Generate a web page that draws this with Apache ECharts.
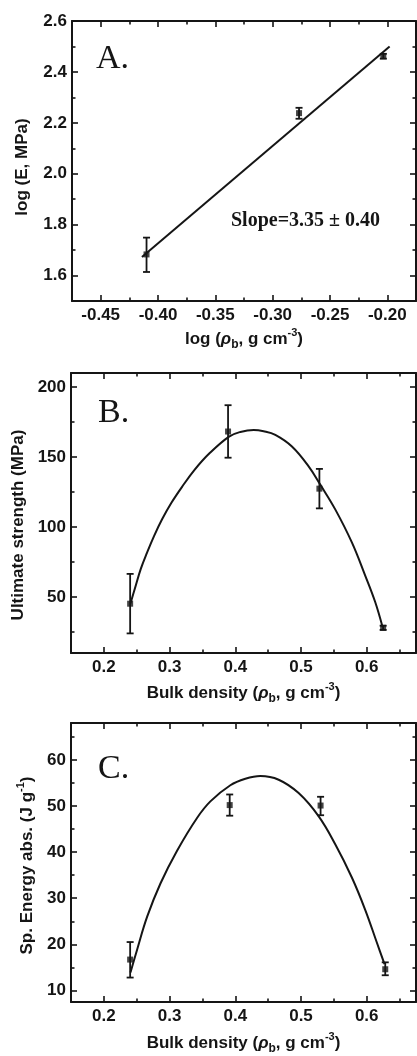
<!DOCTYPE html>
<html><head><meta charset="utf-8">
<script src="https://cdn.jsdelivr.net/npm/echarts@6/dist/echarts.min.js"></script>
<style>html,body{margin:0;padding:0;background:#fff}#c{width:417px;height:1056px}</style>
</head><body><div id="c"></div>
<script>
// ---------- Panel A ----------
const aPoints   = [[-0.410, 1.683], [-0.277, 2.238], [-0.2035, 2.462]];
const aErrLow   = [1.614, 2.216, 2.452];
const aErrHigh  = [1.749, 2.259, 2.471];
const aFitLine  = [[-0.414, 1.673], [-0.198, 2.500]];
const aXRange   = [-0.475, -0.175];
const aYRange   = [1.5, 2.6];
const aXTicks   = [-0.45, -0.40, -0.35, -0.30, -0.25, -0.20];
const aXMinor   = [-0.425, -0.375, -0.325, -0.275, -0.225];
const aYTicks   = [1.6, 1.8, 2.0, 2.2, 2.4, 2.6];
const aYMinor   = [1.7, 1.9, 2.1, 2.3, 2.5];

// ---------- Panel B ----------
const bPoints   = [[0.240, 45.2], [0.389, 168.2], [0.528, 127.4], [0.625, 28.0]];
const bErrLow   = [24.0, 149.5, 113.3, 26.5];
const bErrHigh  = [66.5, 187.0, 141.5, 29.5];
const bCurve    = [[0.2405, 45.3], [0.2471, 55.9], [0.2562, 70.1], [0.2659, 81.9], [0.2765, 93.7],
                   [0.2886, 105.5], [0.3028, 117.3], [0.3196, 129.1], [0.3383, 141.0], [0.3611, 152.8],
                   [0.3905, 164.6], [0.4077, 167.9], [0.4280, 169.3], [0.4432, 168.4], [0.4609, 165.8],
                   [0.4862, 157.5], [0.5116, 143.3], [0.5293, 130.3], [0.5521, 112.6], [0.5774, 89.0],
                   [0.5977, 65.3], [0.6129, 46.4], [0.6240, 28.7]];
const bXRange   = [0.15, 0.675];
const bYRange   = [10, 210];
const bXTicks   = [0.2, 0.3, 0.4, 0.5, 0.6];
const bXMinor   = [0.25, 0.35, 0.45, 0.55, 0.65];
const bYTicks   = [50, 100, 150, 200];
const bYMinor   = [25, 75, 125, 175];

// ---------- Panel C ----------
const cPoints   = [[0.240, 16.7], [0.3915, 50.2], [0.5298, 50.1], [0.6282, 14.6]];
const cErrLow   = [12.8, 47.9, 48.0, 13.3];
const cErrHigh  = [20.5, 52.5, 52.0, 16.1];
const cCurve    = [[0.2405, 13.9], [0.2507, 18.9], [0.2659, 26.0], [0.2861, 33.2], [0.3114, 40.3],
                   [0.3418, 47.4], [0.3621, 51.0], [0.3925, 54.5], [0.4153, 55.9], [0.4381, 56.5],
                   [0.4660, 55.7], [0.4964, 52.8], [0.5267, 47.8], [0.5521, 41.7], [0.5774, 34.5],
                   [0.5977, 27.5], [0.6154, 20.4], [0.6271, 15.7]];
const cXRange   = [0.15, 0.675];
const cYRange   = [7.5, 68];
const cXTicks   = [0.2, 0.3, 0.4, 0.5, 0.6];
const cXMinor   = [0.25, 0.35, 0.45, 0.55, 0.65];
const cYTicks   = [10, 20, 30, 40, 50, 60];
const cYMinor   = [15, 25, 35, 45, 55, 65];

// ---------- Texts ----------
const panelLetters = ['A.', 'B.', 'C.'];
const slopeText = 'Slope=3.35 \u00b1 0.40';
const aXName = '{t|log (}{r|\u03c1}{s|b}{t|, g cm}{p|-3}{t|)}';
const aYName = '{t|log (E, MPa)}';
const bXName = '{t|Bulk density (}{r|\u03c1}{s|b}{t|, g cm}{p|-3}{t|)}';
const bYName = '{t|Ultimate strength (MPa)}';
const cXName = '{t|Bulk density (}{r|\u03c1}{s|b}{t|, g cm}{p|-3}{t|)}';
const cYName = '{t|Sp. Energy abs. (J g}{p|-1}{t|)}';

// ---------- Styling / layout ----------
const INK = '#151515';
const SANS = '"Liberation Sans", Arial, sans-serif';
const SERIF = '"Liberation Serif", "Times New Roman", serif';
const FS = 17;
const RICH = {
  t: {fontFamily: SANS, fontSize: FS, fontWeight: 'bold', color: INK, lineHeight: 24},
  r: {fontFamily: SANS, fontSize: FS, fontWeight: 'bold', fontStyle: 'italic', color: INK, lineHeight: 24},
  s: {fontFamily: SANS, fontSize: 12, fontWeight: 'bold', color: INK, lineHeight: 13, verticalAlign: 'bottom'},
  p: {fontFamily: SANS, fontSize: 11, fontWeight: 'bold', color: INK, lineHeight: 13, verticalAlign: 'top'}
};

const grids = [
  {left: 72, top: 21, width: 344, height: 280},
  {left: 71, top: 373, width: 345, height: 280},
  {left: 71, top: 723, width: 345, height: 283}
];

const xAxes = [], yAxes = [];
function addAxes(gi, xr, yr, xT, xM, yT, yM, xDec, yDec, xName, yName, xGap, yGap, yPad) {
  const base = {gridIndex: gi, type: 'value', splitLine: {show: false}, scale: false};
  const line = {show: true, onZero: false, lineStyle: {color: INK, width: 2}};
  const noLine = {show: false, onZero: false};
  const major = v => ({show: true, inside: true, length: 6, customValues: v, lineStyle: {color: INK, width: 1.6}});
  const minor = v => ({show: true, inside: true, length: 3.5, customValues: v, lineStyle: {color: INK, width: 1.6}});
  const lbl = (v, dec, margin) => ({show: true, customValues: v, formatter: x => Number(x).toFixed(dec),
      margin: margin, color: INK, fontSize: FS, fontWeight: 'bold', fontFamily: SANS});
  const xi = xAxes.length, yi = yAxes.length;
  xAxes.push(Object.assign({}, base, {position: 'bottom', min: xr[0], max: xr[1], axisLine: line,
      axisTick: major(xT), axisLabel: lbl(xT, xDec, 6), name: xName, nameLocation: 'middle',
      nameGap: xGap, nameTextStyle: {rich: RICH}}));
  xAxes.push(Object.assign({}, base, {position: 'bottom', min: xr[0], max: xr[1], axisLine: noLine,
      axisTick: minor(xM), axisLabel: {show: false}}));
  xAxes.push(Object.assign({}, base, {position: 'top', min: xr[0], max: xr[1], axisLine: line,
      axisTick: major(xT), axisLabel: {show: false}}));
  xAxes.push(Object.assign({}, base, {position: 'top', min: xr[0], max: xr[1], axisLine: noLine,
      axisTick: minor(xM), axisLabel: {show: false}}));
  yAxes.push(Object.assign({}, base, {position: 'left', min: yr[0], max: yr[1], axisLine: line,
      axisTick: major(yT), axisLabel: lbl(yT, yDec, 5), name: yName, nameLocation: 'middle',
      nameGap: yGap, nameTextStyle: {rich: RICH, padding: yPad}}));
  yAxes.push(Object.assign({}, base, {position: 'left', min: yr[0], max: yr[1], axisLine: noLine,
      axisTick: minor(yM), axisLabel: {show: false}}));
  yAxes.push(Object.assign({}, base, {position: 'right', min: yr[0], max: yr[1], axisLine: line,
      axisTick: major(yT), axisLabel: {show: false}}));
  yAxes.push(Object.assign({}, base, {position: 'right', min: yr[0], max: yr[1], axisLine: noLine,
      axisTick: minor(yM), axisLabel: {show: false}}));
  return [xi, yi];
}

const axA = addAxes(0, aXRange, aYRange, aXTicks, aXMinor, aYTicks, aYMinor, 2, 1, aXName, aYName, 26, 38, [0, 12, 0, 0]);
const axB = addAxes(1, bXRange, bYRange, bXTicks, bXMinor, bYTicks, bYMinor, 1, 0, bXName, bYName, 28, 39, [0, 24, 0, 0]);
const axC = addAxes(2, cXRange, cYRange, cXTicks, cXMinor, cYTicks, cYMinor, 1, 0, cXName, cYName, 29, 32, [0, 6, 0, 0]);

function errRender(params, api) {
  const x = api.value(0), lo = api.value(1), hi = api.value(2);
  const pLo = api.coord([x, lo]), pHi = api.coord([x, hi]);
  const w = 3.5;
  const st = {stroke: INK, lineWidth: 1.8};
  return {type: 'group', children: [
    {type: 'line', shape: {x1: pLo[0], y1: pLo[1], x2: pHi[0], y2: pHi[1]}, style: st},
    {type: 'line', shape: {x1: pLo[0] - w, y1: pLo[1], x2: pLo[0] + w, y2: pLo[1]}, style: st},
    {type: 'line', shape: {x1: pHi[0] - w, y1: pHi[1], x2: pHi[0] + w, y2: pHi[1]}, style: st}
  ]};
}

function panelSeries(ax, points, lo, hi, curve, smooth) {
  return [
    {type: 'line', xAxisIndex: ax[0], yAxisIndex: ax[1], data: curve, smooth: smooth, showSymbol: false,
     lineStyle: {color: INK, width: 2}, z: 3},
    {type: 'custom', xAxisIndex: ax[0], yAxisIndex: ax[1], renderItem: errRender,
     encode: {x: 0, y: [1, 2]}, data: points.map((p, i) => [p[0], lo[i], hi[i]]), z: 4},
    {type: 'scatter', xAxisIndex: ax[0], yAxisIndex: ax[1], data: points, symbol: 'rect', symbolSize: 6,
     itemStyle: {color: INK}, z: 5}
  ];
}

const series = [].concat(
  panelSeries(axA, aPoints, aErrLow, aErrHigh, aFitLine, false),
  panelSeries(axB, bPoints, bErrLow, bErrHigh, bCurve, 0.4),
  panelSeries(axC, cPoints, cErrLow, cErrHigh, cCurve, 0.4)
);

const letterPos = [[96, 59.5], [98, 413.5], [98, 769]];
const graphic = panelLetters.map((t, i) => ({
  type: 'text', x: letterPos[i][0], y: letterPos[i][1],
  style: {text: t, fontFamily: SERIF, fontSize: 34, fill: INK, verticalAlign: 'middle', align: 'left'}
})).concat([{
  type: 'text', x: 231, y: 220.5,
  style: {text: slopeText, fontFamily: SERIF, fontSize: 20, fontWeight: 'bold', fill: INK,
          verticalAlign: 'middle', align: 'left'}
}]);

const chart = echarts.init(document.getElementById('c'), null, {renderer: 'canvas'});
chart.setOption({
  animation: false,
  backgroundColor: '#fff',
  grid: grids,
  xAxis: xAxes,
  yAxis: yAxes,
  series: series,
  graphic: graphic
});
</script></body></html>
